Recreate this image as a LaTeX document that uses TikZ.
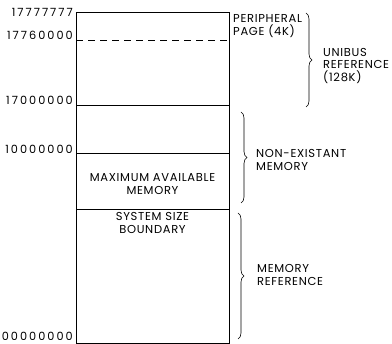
\documentclass[tikz,border=0pt]{standalone}
\usepackage{fontspec}
\setmainfont{Poppins}
\newfontfamily\mapfont[LetterSpace=6]{Poppins}
\newfontfamily\addrfont[LetterSpace=18]{Poppins}
\usetikzlibrary{decorations.pathreplacing}
\tikzset{
    addrLabel/.style={
        anchor=east,
        inner sep=0pt,
        font=\addrfont\fontsize{11.3}{12.5}\selectfont
    },
    regionText/.style={
        align=center,
        inner sep=0pt,
        font=\mapfont\fontsize{11.5}{12.5}\selectfont
    },
    sideText/.style={
        anchor=west,
        align=left,
        inner sep=0pt,
        font=\mapfont\fontsize{11.5}{12.5}\selectfont
    },
    rangeBrace/.style={
        decorate,
        decoration={brace,amplitude=6pt},
        line width=0.6pt
    },
    mapLine/.style={
        line width=0.7pt
    }
}

\begin{document}
\begin{tikzpicture}[x=1pt,y=-1pt]
        \useasboundingbox (0,0) rectangle (392,344);

        % memory map
        \draw[mapLine] (76,12) rectangle (229,343);
        \draw[mapLine,dash pattern=on 7pt off 5pt] (76,40) -- (229,40);
        \draw[mapLine] (76,105) -- (229,105);
        \draw[mapLine] (76,153) -- (229,153);
        \draw[mapLine] (76,209) -- (229,209);

        % addresses
        \node[addrLabel] (aTop) at (73,12) {17777777};
        \node[addrLabel] (aPage) at (73,35) {17760000};
        \node[addrLabel] (aUnibus) at (73,100) {17000000};
        \node[addrLabel] (aHalf) at (73,149) {10000000};
        \node[addrLabel] (aZero) at (73,336) {00000000};

        % texts in the map
        \node[regionText] (maxMem) at (152.5,184) {MAXIMUM AVAILABLE\\MEMORY};
        \node[regionText] (sysSize) at (152.5,223) {SYSTEM SIZE\\BOUNDARY};

        % braces and their texts
        \coordinate (b1Top) at (306,13);
        \coordinate (b1Bot) at (306,107);
        \coordinate (b2Top) at (241,112);
        \coordinate (b2Bot) at (241,203);
        \coordinate (b3Top) at (238,213);
        \coordinate (b3Bot) at (238,339);
        \draw[rangeBrace] (b1Top) -- (b1Bot);
        \draw[rangeBrace] (b2Top) -- (b2Bot);
        \draw[rangeBrace] (b3Top) -- (b3Bot);

        \node[sideText] (periph) at (233,26) {PERIPHERAL\\PAGE (4K)};
        \node[sideText] (unibus) at (323,66) {UNIBUS\\REFERENCE\\(128K)};
        \node[sideText] (nonExist) at (256,160) {NON-EXISTANT\\MEMORY};
        \node[sideText] (memRef) at (257,275) {MEMORY\\REFERENCE};
    \end{tikzpicture}
\end{document}
